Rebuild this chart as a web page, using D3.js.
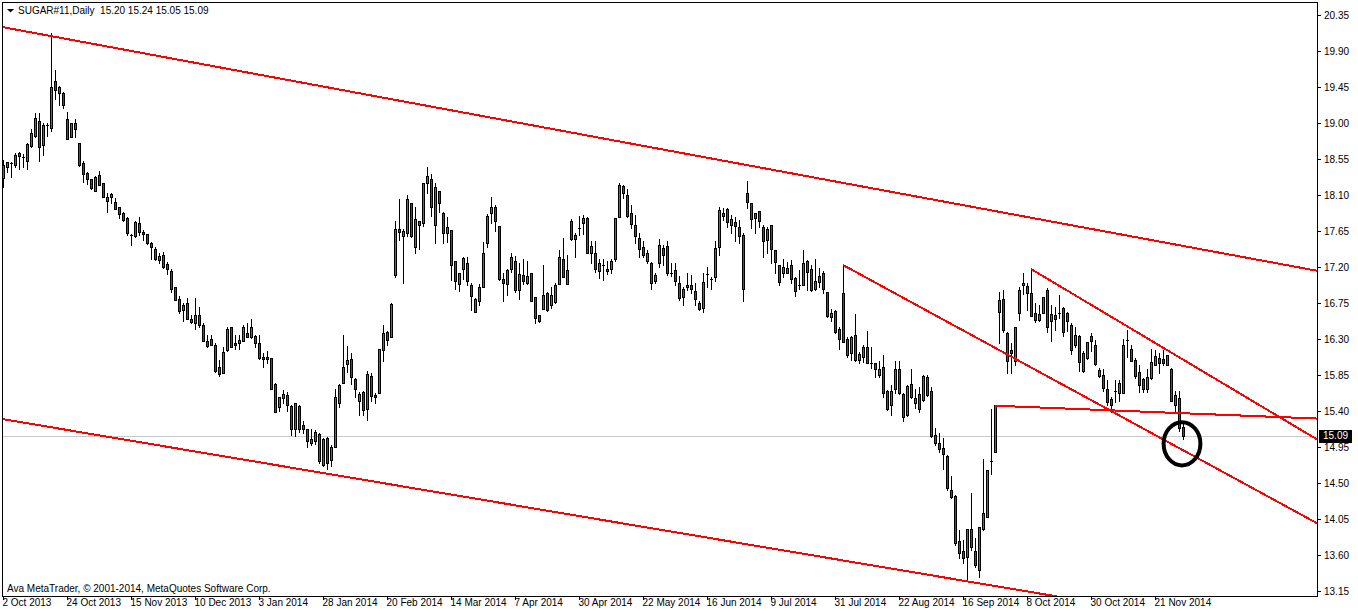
<!DOCTYPE html>
<html><head><meta charset="utf-8">
<script src="https://cdn.jsdelivr.net/npm/d3@7"></script>
<style>
body{margin:0;background:#fff;}
svg{display:block;}
text{font-family:"Liberation Sans",Arial,sans-serif;}
</style>
</head><body>
<svg id="c" width="1358" height="614"></svg>
<script>
// ---------------- DATA ----------------
const symbolTitle = "SUGAR#11,Daily";
const copyrightText = "Ava MetaTrader, \u00A9 2001-2014, MetaQuotes Software Corp.";

const opens = [
18.31,18.45,18.50,18.47,18.59,18.57,18.52,18.71,18.84,19.03,
18.72,18.97,18.94,19.52,19.38,19.38,19.05,18.83,19.00,18.75,
18.50,18.37,18.30,18.15,18.35,18.25,18.03,18.07,18.01,17.95,
17.88,17.81,17.60,17.59,17.75,17.64,17.61,17.50,17.43,17.29,
17.35,17.24,17.15,16.95,16.80,16.66,16.75,16.55,16.50,16.60,
16.48,16.28,16.30,16.23,15.95,15.87,16.16,16.45,16.25,16.25,
16.27,16.38,16.32,16.34,16.25,16.07,16.07,16.06,15.74,15.45,
15.56,15.60,15.46,15.17,15.46,15.22,15.17,15.00,15.03,15.11,
14.73,15.06,14.79,14.95,15.50,15.75,15.99,16.05,15.80,15.53,
15.64,15.43,15.84,15.60,15.63,16.16,16.39,16.33,17.10,17.68,
17.59,17.63,18.00,17.45,17.77,17.75,18.25,18.30,17.73,18.15,
17.88,17.63,17.66,17.27,16.99,17.18,17.25,16.97,16.64,16.78,
16.95,17.50,17.88,17.95,17.71,17.05,16.99,17.17,17.27,16.91,
17.10,17.00,17.12,16.82,16.60,16.67,16.87,16.73,16.76,16.99,
17.30,16.99,17.78,17.55,17.69,17.75,17.81,17.37,17.38,17.15,
17.23,17.17,17.18,17.30,17.82,18.21,18.10,17.88,17.73,17.56,
17.45,17.28,17.25,17.03,17.25,17.44,17.46,17.13,17.16,17.00,
16.83,16.95,16.98,16.90,16.75,16.69,17.11,17.05,17.08,17.45,
17.84,17.92,17.73,17.76,17.70,17.60,18.13,18.00,17.81,17.90,
17.70,17.54,17.73,17.41,17.23,17.12,17.13,17.23,17.06,16.97,
16.98,17.28,17.18,16.93,17.01,17.13,16.89,16.58,16.65,16.43,
16.87,16.30,16.12,16.35,16.04,16.08,16.20,16.00,16.00,15.85,
15.95,15.65,15.48,15.68,15.93,15.61,15.35,15.74,15.50,15.61,
15.54,15.82,15.65,15.10,15.00,14.94,14.84,14.41,14.34,13.78,
13.65,13.57,13.92,13.65,13.41,13.93,14.08,14.78,14.89,16.64,
16.80,16.38,16.16,16.02,16.63,16.97,16.96,16.88,16.63,16.54,
16.63,16.91,16.53,16.60,16.62,16.69,16.63,16.48,16.23,16.34,
15.90,16.06,16.34,16.23,15.84,15.85,15.68,15.55,15.65,15.63,
15.62,16.29,16.18,16.04,15.89,15.80,15.68,15.81,15.98,16.06,
16.05,15.98,15.93,15.48,15.56,15.20];

const highs = [
18.54,18.51,18.51,18.63,18.64,18.61,18.75,18.93,19.12,19.13,
19.00,19.00,20.13,19.66,19.46,19.39,19.14,19.00,19.05,18.75,
18.53,18.39,18.30,18.34,18.40,18.25,18.12,18.12,18.06,17.95,
17.89,17.82,17.61,17.77,17.82,17.66,17.61,17.51,17.45,17.38,
17.39,17.26,17.17,16.95,16.84,16.75,16.81,16.60,16.81,16.70,
16.50,16.35,16.35,16.25,16.04,16.20,16.45,16.45,16.35,16.35,
16.47,16.50,16.55,16.35,16.35,16.12,16.15,16.06,15.75,15.57,
15.66,15.64,15.48,15.50,15.48,15.27,15.18,15.18,15.16,15.12,
15.06,15.07,14.98,15.68,15.74,16.35,16.21,16.13,15.81,15.64,
15.65,15.90,15.87,15.62,16.18,16.48,16.40,16.75,17.77,18.05,
17.68,18.10,18.00,17.95,17.78,18.25,18.45,18.36,18.25,18.15,
17.89,17.82,17.66,17.28,17.13,17.33,17.33,17.00,16.81,16.99,
17.51,17.86,18.08,17.97,17.71,17.13,17.17,17.37,17.34,17.25,
17.30,17.27,17.13,16.82,16.60,17.23,16.89,16.95,17.00,17.41,
17.56,17.35,17.80,17.62,17.84,17.85,17.83,17.53,17.53,17.30,
17.30,17.28,17.30,17.81,18.25,18.23,18.18,17.98,17.85,17.62,
17.52,17.41,17.26,17.13,17.55,17.48,17.52,17.25,17.25,17.09,
16.95,17.13,17.10,17.00,16.78,17.13,17.20,17.08,17.53,17.95,
17.94,17.94,17.85,17.82,17.79,17.63,18.27,18.00,17.88,17.90,
17.72,17.70,17.73,17.41,17.23,17.30,17.26,17.29,17.08,17.16,
17.41,17.29,17.22,17.30,17.19,17.15,16.89,16.68,16.66,16.45,
17.23,16.32,16.34,16.61,16.14,16.23,16.40,16.20,16.00,16.02,
16.10,15.66,15.73,16.02,16.02,15.62,15.73,15.93,15.68,15.70,
15.85,15.85,15.70,15.19,15.12,15.06,14.85,14.59,14.35,13.91,
13.79,13.93,14.37,13.81,13.95,14.80,14.66,15.43,15.47,16.89,
16.91,16.39,16.25,16.45,16.95,17.12,17.00,17.18,16.75,16.73,
16.83,16.94,16.73,16.70,16.85,16.70,16.64,16.50,16.45,16.35,
16.15,16.26,16.37,16.29,15.94,15.93,15.79,15.57,15.79,15.79,
16.30,16.41,16.23,16.06,15.98,15.81,15.93,16.18,16.16,16.13,
16.16,16.10,15.94,15.65,15.65,15.24];

const lows = [
18.20,18.39,18.33,18.45,18.43,18.45,18.42,18.70,18.83,18.53,
18.60,18.84,18.90,19.30,19.23,19.19,18.80,18.82,18.83,18.46,
18.26,18.24,18.18,18.15,18.22,18.07,17.89,18.00,17.92,17.81,
17.77,17.60,17.48,17.58,17.60,17.54,17.49,17.30,17.29,17.25,
17.19,17.11,16.89,16.79,16.63,16.53,16.55,16.50,16.43,16.45,
16.27,16.20,16.22,15.89,15.84,15.87,16.15,16.20,16.18,16.18,
16.27,16.32,16.31,16.20,16.05,15.95,16.00,15.67,15.39,15.40,
15.50,15.40,15.10,15.09,15.14,15.12,14.95,14.98,14.99,14.75,
14.71,14.68,14.71,14.95,15.45,15.75,15.89,15.74,15.57,15.35,
15.35,15.29,15.53,15.50,15.63,16.03,16.23,16.33,17.08,17.54,
17.00,17.59,17.57,17.38,17.42,17.71,18.12,17.84,17.50,17.89,
17.50,17.51,17.04,16.93,16.90,17.05,16.98,16.66,16.64,16.73,
16.95,17.45,17.75,17.65,17.04,16.77,16.85,17.14,16.89,16.80,
16.99,16.99,16.77,16.50,16.51,16.67,16.65,16.69,16.75,16.99,
17.07,16.99,17.54,17.32,17.60,17.61,17.37,17.25,17.14,17.06,
17.04,17.11,17.12,17.27,17.82,18.06,17.83,17.69,17.50,17.33,
17.33,17.25,16.93,17.00,17.20,17.22,17.10,17.09,16.98,16.79,
16.73,16.91,16.87,16.73,16.66,16.64,16.95,16.93,17.02,17.35,
17.79,17.70,17.62,17.52,17.50,16.78,17.94,17.69,17.63,17.70,
17.32,17.38,17.25,17.13,16.98,17.08,17.13,17.00,16.84,16.93,
16.98,16.91,16.90,16.91,16.95,16.88,16.57,16.52,16.38,16.18,
16.26,16.08,16.04,16.03,16.00,16.01,16.00,15.94,15.83,15.83,
15.58,15.41,15.35,15.62,15.61,15.27,15.34,15.56,15.44,15.39,
15.52,15.59,15.07,14.98,14.89,14.68,14.41,14.31,13.73,13.56,
13.50,13.30,13.66,13.45,13.33,13.91,14.08,14.61,14.89,16.25,
16.39,15.87,15.88,15.98,16.54,16.86,16.66,16.59,16.51,16.52,
16.62,16.39,16.27,16.41,16.56,16.34,16.40,16.11,16.20,15.90,
15.89,16.05,16.15,15.98,15.83,15.65,15.48,15.39,15.51,15.52,
15.62,16.08,16.02,15.81,15.64,15.64,15.64,15.80,15.98,15.88,
15.98,15.98,15.52,15.37,15.15,15.05];

const closes = [
18.48,18.51,18.50,18.60,18.62,18.57,18.74,18.88,19.06,18.70,
18.98,18.97,19.45,19.41,19.45,19.23,18.80,19.00,18.92,18.47,
18.36,18.30,18.19,18.32,18.22,18.07,18.07,18.11,17.93,17.86,
17.79,17.62,17.60,17.76,17.64,17.61,17.50,17.45,17.30,17.34,
17.20,17.17,16.92,16.79,16.65,16.72,16.55,16.51,16.60,16.48,
16.28,16.21,16.23,15.90,15.86,16.14,16.43,16.20,16.23,16.29,
16.45,16.32,16.45,16.25,16.06,16.05,16.05,15.68,15.39,15.57,
15.61,15.48,15.18,15.50,15.17,15.17,15.02,15.05,15.14,14.78,
15.05,14.75,14.95,15.58,15.72,15.95,16.04,15.83,15.68,15.61,
15.41,15.86,15.59,15.57,16.18,16.37,16.29,16.74,17.68,17.64,
17.65,18.05,17.59,17.80,17.73,18.25,18.34,17.95,18.20,18.00,
17.62,17.70,17.23,17.03,17.13,17.31,17.03,16.84,16.80,16.95,
17.37,17.84,17.95,17.77,17.05,17.00,17.16,17.33,16.91,17.11,
17.02,17.09,16.78,16.56,16.53,16.85,16.66,16.85,16.98,17.32,
17.08,17.16,17.55,17.60,17.69,17.81,17.38,17.46,17.17,17.25,
17.23,17.15,17.28,17.81,18.23,18.13,17.84,17.74,17.59,17.43,
17.35,17.38,17.00,17.10,17.48,17.35,17.13,17.13,17.02,16.81,
16.93,16.98,16.92,16.80,16.67,17.01,17.11,17.05,17.44,17.91,
17.88,17.76,17.80,17.71,17.59,16.93,18.01,17.80,17.88,17.78,
17.53,17.68,17.43,17.26,17.01,17.20,17.19,17.05,16.90,16.97,
17.25,17.14,16.91,17.03,17.09,16.93,16.59,16.62,16.39,16.30,
16.26,16.10,16.32,16.04,16.11,16.20,16.00,16.00,15.92,15.93,
15.62,15.43,15.65,15.93,15.62,15.32,15.71,15.57,15.56,15.43,
15.84,15.60,15.09,15.00,14.92,14.86,14.44,14.32,13.75,13.62,
13.56,13.93,13.70,13.47,13.95,14.13,14.66,14.78,15.47,16.79,
16.41,16.03,16.12,16.45,16.91,17.00,16.87,16.59,16.54,16.61,
16.82,16.45,16.61,16.55,16.62,16.39,16.52,16.16,16.35,16.01,
16.13,16.26,16.28,15.99,15.91,15.69,15.51,15.48,15.65,15.75,
16.23,16.29,16.03,15.84,15.72,15.68,15.82,16.01,16.09,16.00,
16.00,16.10,15.53,15.60,15.19,15.09];

const dateTickIndex = [0,16,32,48,64,80,96,112,128,144,160,176,192,208,224,240,256,272,288];
const dateTickLabels = ["2 Oct 2013","24 Oct 2013","15 Nov 2013","10 Dec 2013","3 Jan 2014",
  "28 Jan 2014","20 Feb 2014","14 Mar 2014","7 Apr 2014","30 Apr 2014","22 May 2014",
  "16 Jun 2014","9 Jul 2014","31 Jul 2014","22 Aug 2014","16 Sep 2014","8 Oct 2014",
  "30 Oct 2014","21 Nov 2014"];
const priceTicks = [20.35,19.90,19.45,19.00,18.55,18.10,17.65,17.20,16.75,16.30,15.85,15.40,14.95,14.50,14.05,13.60,13.15];

// trend lines: [startIndex, startPrice], [endIndex, endPrice], extend-to-left flag
const trendStarts = [[-0.25,20.20],[-0.25,15.30],[210,17.225],[257,17.175],[248,15.466]];
const trendEnds   = [[327.5,17.1625],[219.75,13.45],[327.5,14.025],[327.5,15.075],[327.5,15.3075]];
const trendExtendLeft = [true,true,false,false,false];

// circled mark (bar index / price centre, radius in bars / price)
const markCenter = [294.75, 14.99];
const markRadius = [4.6, 0.27];

// ---------------- CHART ----------------
const svg = d3.select("#c");
const FONT = '"Liberation Sans", Arial, sans-serif';
const L = 2, R = 1317, T = 2, B = 596;
const x = d3.scaleLinear().domain([-0.25, 328.5]).range([L, R]);
const y = d3.scaleLinear().domain([13.0875, 20.5125]).range([B, T]);

svg.append("rect").attr("width",1358).attr("height",614).attr("fill","#fff");
svg.append("defs").append("clipPath").attr("id","clip")
  .append("rect").attr("x",L+1).attr("y",T+1).attr("width",R-L-1).attr("height",B-T-1);

const n = closes.length;
const last = n - 1;
const data = opens.map((o,i)=>({i, o, h:highs[i], l:lows[i], c:closes[i]}));

// current price line
const yLast = Math.round(y(closes[last])) + 0.5;
svg.append("line").attr("x1",L).attr("x2",R).attr("y1",yLast).attr("y2",yLast)
  .attr("stroke","#c8c8d0").attr("stroke-width",1).attr("shape-rendering","crispEdges");

const plot = svg.append("g").attr("clip-path","url(#clip)").attr("shape-rendering","crispEdges");

const candles = plot.selectAll("g.cd").data(data).join("g").attr("class","cd");
candles.append("rect")
  .attr("x", d=>Math.round(x(d.i)))
  .attr("y", d=>Math.round(y(d.h)))
  .attr("width",1)
  .attr("height", d=>Math.max(1, Math.round(y(d.l)) - Math.round(y(d.h)) + 1))
  .attr("fill","#000");
candles.each(function(d){
  const g = d3.select(this);
  const cx = Math.round(x(d.i));
  const top = Math.round(y(Math.max(d.o,d.c)));
  const bot = Math.round(y(Math.min(d.o,d.c)));
  if (bot - top < 1) {
    g.append("rect").attr("x",cx-1).attr("y",top).attr("width",3).attr("height",1).attr("fill","#000");
  } else {
    g.append("rect").attr("x",cx-1).attr("y",top).attr("width",3).attr("height",bot-top+1).attr("fill","#000");
    if (bot - top - 1 > 0) {
      g.append("rect").attr("x",cx).attr("y",top+1).attr("width",1).attr("height",bot-top-1)
        .attr("fill", d.c > d.o ? "#2e8b2e" : "#e01010");
    }
  }
});

// trend lines
const tl = svg.append("g").attr("clip-path","url(#clip)");
trendStarts.forEach((s,k)=>{
  const e = trendEnds[k];
  const slope = (e[1]-s[1])/(e[0]-s[0]);
  const i0 = trendExtendLeft[k] ? -0.25 : s[0];
  const i1 = 328.5;
  const p0 = s[1] + slope*(i0 - s[0]);
  const p1 = s[1] + slope*(i1 - s[0]);
  tl.append("line")
    .attr("x1",x(i0)).attr("y1",y(p0)).attr("x2",x(i1)).attr("y2",y(p1))
    .attr("stroke","#ff0000").attr("stroke-width",2).attr("shape-rendering","crispEdges");
});

// circled mark
svg.append("ellipse")
  .attr("cx", x(markCenter[0])).attr("cy", y(markCenter[1]))
  .attr("rx", x(markRadius[0]) - x(0)).attr("ry", y(0) - y(markRadius[1]))
  .attr("fill","none").attr("stroke","#000").attr("stroke-width",4);

// frame
svg.append("rect").attr("x",L+0.5).attr("y",T+0.5).attr("width",R-L).attr("height",B-T)
  .attr("fill","none").attr("stroke","#000").attr("stroke-width",1).attr("shape-rendering","crispEdges");

// right price axis
const ay = svg.append("g").attr("transform",`translate(${R},0)`)
  .call(d3.axisRight(y).tickValues(priceTicks).tickSize(4).tickPadding(3).tickFormat(d3.format(".2f")));
ay.select(".domain").remove();
ay.attr("font-family",FONT).attr("font-size",10);
ay.selectAll("line").attr("stroke","#000").attr("shape-rendering","crispEdges");
ay.selectAll("text").attr("fill","#000");

// current price box
svg.append("rect").attr("x",R+2).attr("y",Math.round(y(closes[last]))-6).attr("width",33).attr("height",13)
  .attr("fill","#000");
svg.append("text").attr("x",R+6).attr("y",y(closes[last])).attr("dy","0.35em")
  .attr("font-size",10).attr("font-family",FONT).attr("fill","#fff")
  .text(closes[last].toFixed(2));

// bottom date axis
const ax = svg.append("g").attr("transform",`translate(0,${B})`)
  .call(d3.axisBottom(x).tickValues(dateTickIndex).tickSize(4)
    .tickFormat((d,k)=>dateTickLabels[k]));
ax.select(".domain").remove();
ax.attr("font-family",FONT).attr("font-size",10);
ax.selectAll("line").attr("stroke","#000").attr("shape-rendering","crispEdges");
ax.selectAll("text").attr("fill","#000").attr("text-anchor","start").attr("x",-1).attr("y",3);

// title
svg.append("path").attr("d","M7,9 L14,9 L10.5,12.5 Z").attr("fill","#000");
svg.append("text").attr("x",18).attr("y",14).attr("font-size",10).attr("font-family",FONT)
  .attr("fill","#000").style("white-space","pre")
  .text(`${symbolTitle}  ${opens[last].toFixed(2)} ${highs[last].toFixed(2)} ${lows[last].toFixed(2)} ${closes[last].toFixed(2)}`);

// copyright
svg.append("text").attr("x",7).attr("y",592).attr("font-size",10).attr("font-family",FONT)
  .attr("fill","#000").text(copyrightText);
</script>
</body></html>
